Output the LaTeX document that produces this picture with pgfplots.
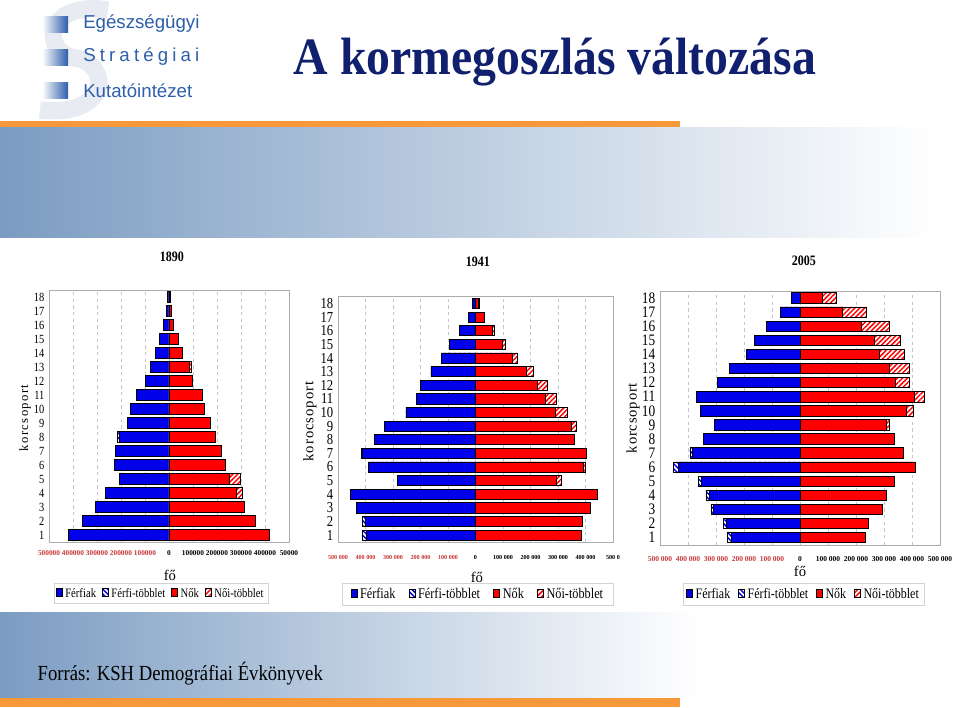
\documentclass[border=0pt]{standalone}
\usepackage{pgfplots}
\pgfplotsset{compat=1.18}
\usepackage{pgfplotstable}
\usepackage{fontspec}
\setmainfont{Liberation Serif}
\newfontfamily\logofont{Liberation Sans}
\usetikzlibrary{patterns.meta}

\definecolor{mblue}{RGB}{0,0,235}
\definecolor{fred}{RGB}{255,0,0}
\definecolor{negred}{RGB}{200,55,55}
\definecolor{steel}{RGB}{123,156,194}
\definecolor{orangebar}{RGB}{247,152,58}
\definecolor{navy}{RGB}{16,32,110}
\definecolor{logoblue}{RGB}{45,95,170}

\newcommand\vs[1]{\scalebox{1}[1.2]{#1}}

% values in thousands: men, men surplus, women, women surplus
\pgfplotstableread{
g m mh f fh
1 420 0 417 0
2 359 0 358 0
3 308 0 313 0
4 264 0 279 25
5 207 0 251 48
6 227 0 233 0
7 222 0 218 0
8 207 8 192 0
9 173 0 174 0
10 160 0 146 0
11 134 0 138 0
12 97 0 97 0
13 77 0 86 8
14 58 0 55 0
15 39 0 41 0
16 22 0 18 0
17 11 0 8 0
18 7 0 6 0
}\dataA

\pgfplotstableread{
g m mh f fh
1 398 12 385 0
2 402 10 389 0
3 434 0 419 0
4 455 0 442 0
5 284 0 295 18
6 390 0 394 6
7 413 3 404 0
8 367 0 359 0
9 330 0 349 17
10 253 0 291 42
11 216 0 255 40
12 201 0 225 36
13 162 0 185 27
14 125 0 133 18
15 95 0 97 12
16 57 0 61 8
17 27 0 33 0
18 12 0 12 3
}\dataB

\pgfplotstableread{
g m mh f fh
1 246 13 235 0
2 262 12 244 0
3 308 10 293 0
4 324 12 310 0
5 351 12 336 0
6 433 18 412 0
7 383 10 370 0
8 346 0 336 0
9 305 0 310 8
10 357 0 381 24
11 370 0 408 38
12 295 0 340 50
13 252 0 321 69
14 192 0 283 89
15 164 0 264 95
16 119 0 220 101
17 70 0 152 86
18 32 0 80 49
}\dataC

\tikzset{
  mhatch/.style={fill=white, postaction={pattern={Lines[angle=-45,distance=2.6pt,line width=1.1pt]}, pattern color=mblue}},
  fhatch/.style={fill=white, postaction={pattern={Lines[angle=45,distance=2.6pt,line width=1.1pt]}, pattern color=fred}},
}

\pgfplotsset{
  bb/.style={xbar, bar shift=0pt, bar width=0.74, draw=black, line width=0.6pt, forget plot},
  pyr/.style={
    scale only axis, anchor=south west,
    xmin=-500, xmax=500, xtick={-500,-400,...,500},
    ytick={1,...,18},
    xmajorgrids,
    major grid style={dash pattern=on 2.5pt off 2.5pt, gray!45, line width=0.5pt},
    axis line style={gray!65, line width=0.7pt},
    major tick length=0pt,
    /pgf/number format/assume math mode=true,
    yticklabel={\vs{\pgfmathprintnumber{\tick}}},
    legend columns=4,
    legend image code/.code={\draw[##1, line width=0.5pt] (0pt,-2.2pt) rectangle (4.5pt,3.8pt);},
    legend style={draw=gray!35, fill=white, line width=0.5pt, inner sep=1.5pt, anchor=north},
    legend cell align=left,
    ylabel style={anchor=center},
    xlabel style={anchor=center, font=\fontsize{11}{12}\selectfont},
    every axis title/.style={anchor=center, font=\bfseries\fontsize{9}{10}\selectfont},
  },
}

\newcommand\pyrplots[1]{
  \addplot[bb, mhatch] table[y=g, x expr={-(\thisrow{m}+\thisrow{mh})}] {#1};
  \addplot[bb, fill=mblue] table[y=g, x expr={-\thisrow{m}}] {#1};
  \addplot[bb, fhatch] table[y=g, x expr={\thisrow{f}+\thisrow{fh}}] {#1};
  \addplot[bb, fill=fred] table[y=g, x=f] {#1};
  \addlegendimage{fill=mblue, draw=black}
  \addlegendentry{\vs{Férfiak}}
  \addlegendimage{mhatch, draw=black}
  \addlegendentry{\vs{Férfi-többlet}}
  \addlegendimage{fill=fred, draw=black}
  \addlegendentry{\vs{Nők}}
  \addlegendimage{fhatch, draw=black}
  \addlegendentry{\vs{Női-többlet}}
}

\begin{document}
\begin{tikzpicture}
\useasboundingbox (0,0) rectangle (720pt,530.25pt);
\fill[white] (0,0) rectangle (720pt,530.25pt);
% slide decoration, in pixel units counted from the top
\begin{scope}[shift={(0pt,530.25pt)}, x=0.75pt, y=-0.75pt]
\fill[orangebar] (0,121) rectangle (680,128);
\shade[left color=steel, right color=white] (0,128) rectangle (935,238);
\shade[left color=steel, right color=white] (0,612) rectangle (700,698);
\fill[orangebar] (0,698) rectangle (680,707);
% logo
\draw[line width=13pt, color={rgb,255:red,232;green,236;blue,242}]
  (108,10) .. controls (45,0) and (40,52) .. (75,58) .. controls (112,64) and (110,118) .. (40,110);
\foreach \yy in {17,50,83}
  \shade[left color=white, right color=logoblue] (42,\yy) rectangle (68,\yy+16);
\begin{scope}[every node/.style={anchor=west, text=logoblue, inner sep=0pt, font=\logofont\fontsize{14}{14}\selectfont}]
\node at (83,24) {\makebox[87pt][s]{Egészségügyi}};
\node at (83,57) {\makebox[87pt][s]{S\hfill t\hfill r\hfill a\hfill t\hfill é\hfill g\hfill i\hfill a\hfill i}};
\node at (83,91) {\makebox[87pt][s]{Kutatóintézet}};
\end{scope}
\node[anchor=base, text=navy, font=\bfseries\fontsize{35.8}{40}\selectfont] at (555,75) {\scalebox{1}[1.1]{A kormegoszlás változása}};
\node[anchor=base west, font=\fontsize{14}{16}\selectfont] at (33,680) {\scalebox{1}[1.15]{Forrás: KSH Demográfiai Évkönyvek}};
\end{scope}

% 1890
\begin{axis}[pyr, at={(36.75pt,123.75pt)}, width=180pt, height=189pt,
  ymin=0.5, ymax=18.5,
  xticklabels={\textcolor{negred}{500000},\textcolor{negred}{400000},\textcolor{negred}{300000},\textcolor{negred}{200000},\textcolor{negred}{100000},0,100000,200000,300000,400000,50000},
  xticklabel style={anchor=center, yshift=-8.25pt, font=\bfseries\fontsize{5.5}{6}\selectfont},
  yticklabel style={font=\fontsize{7.8}{8}\selectfont},
  ylabel={\makebox[50pt][s]{k\hfill o\hfill r\hfill c\hfill s\hfill o\hfill p\hfill o\hfill r\hfill t}},
  ylabel style={at={(axis description cs:-0.1,0.492)}, font=\fontsize{9.5}{10}\selectfont},
  xlabel={fő}, xlabel style={at={(axis description cs:0.504,-0.131)}},
  title={\vs{1890}}, title style={at={(axis description cs:0.5125,1.131)}},
  legend style={at={(axis description cs:0.467,-0.163)}, font=\fontsize{8}{9}\selectfont,
    /tikz/every even column/.append style={column sep=2.5pt}},
]
\pyrplots{\dataA}
\end{axis}

% 1941
\begin{axis}[pyr, at={(253.5pt,123.75pt)}, width=206.25pt, height=184.5pt,
  ymin=0.5, ymax=18.55,
  xticklabels={\textcolor{negred}{500 000},\textcolor{negred}{400 000},\textcolor{negred}{300 000},\textcolor{negred}{200 000},\textcolor{negred}{100 000},0,100 000,200 000,300 000,400 000,500 0},
  xticklabel style={anchor=center, yshift=-11.25pt, font=\bfseries\fontsize{4.6}{5}\selectfont},
  yticklabel style={font=\fontsize{9.5}{10}\selectfont},
  ylabel={\makebox[60pt][s]{k\hfill o\hfill r\hfill o\hfill c\hfill s\hfill o\hfill p\hfill o\hfill r\hfill t}},
  ylabel style={at={(axis description cs:-0.102,0.49)}, font=\fontsize{11}{12}\selectfont},
  xlabel={fő}, xlabel style={at={(axis description cs:0.505,-0.142)}},
  title={\vs{1941}}, title style={at={(axis description cs:0.509,1.138)}},
  legend style={at={(axis description cs:0.51,-0.167)}, font=\fontsize{9.2}{10}\selectfont,
    inner xsep=6pt, /tikz/every even column/.append style={column sep=8pt}},
]
\pyrplots{\dataB}
\end{axis}

% 2005
\begin{axis}[pyr, at={(495pt,121.5pt)}, width=210pt, height=190.5pt,
  ymin=0.48, ymax=18.5,
  xticklabels={\textcolor{negred}{500 000},\textcolor{negred}{400 000},\textcolor{negred}{300 000},\textcolor{negred}{200 000},\textcolor{negred}{100 000},0,100 000,200 000,300 000,400 000,500 000},
  xticklabel style={anchor=center, yshift=-10.5pt, font=\bfseries\fontsize{5.6}{6}\selectfont},
  yticklabel style={font=\fontsize{10}{11}\selectfont},
  ylabel={\makebox[52.5pt][s]{k\hfill o\hfill r\hfill c\hfill s\hfill o\hfill p\hfill o\hfill r\hfill t}},
  ylabel style={at={(axis description cs:-0.096,0.5)}, font=\fontsize{11}{12}\selectfont},
  xlabel={fő}, xlabel style={at={(axis description cs:0.5,-0.102)}},
  title={\vs{2005}}, title style={at={(axis description cs:0.514,1.118)}},
  legend style={at={(axis description cs:0.514,-0.15)}, font=\fontsize{9}{10}\selectfont,
    inner xsep=2pt, /tikz/every even column/.append style={column sep=4pt}},
]
\pyrplots{\dataC}
\end{axis}
\end{tikzpicture}
\end{document}
